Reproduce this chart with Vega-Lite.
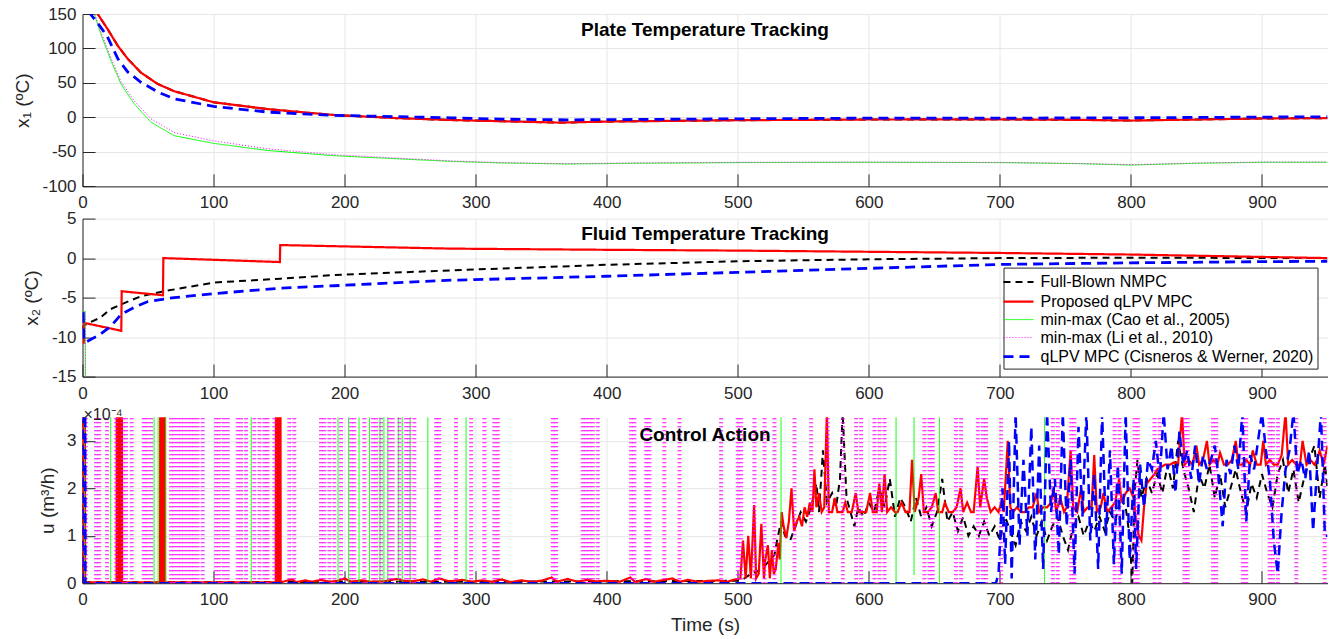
{
  "$schema": "https://vega.github.io/schema/vega-lite/v6.json",
  "background": "white",
  "padding": {"left": 12.5, "top": 5, "right": 10, "bottom": 6},
  "spacing": -1.4,
  "config": {
    "font": "Liberation Sans",
    "view": {"stroke": null},
    "axis": {"labelFontSize": 17, "labelColor": "#262626", "titleFontSize": 19, "titleFontWeight": "normal", "titleColor": "#262626", "domainColor": "#262626", "domainWidth": 1, "tickColor": "#262626", "tickSize": -12.5, "gridColor": "#e6e6e6", "labelFlush": false, "labelOverlap": false, "labelBound": false},
    "axisX": {"labelPadding": 21, "titlePadding": 8},
    "axisY": {"labelPadding": 19, "titlePadding": 9.5},
    "line": {"clip": true, "strokeCap": "butt", "strokeJoin": "miter"},
    "rule": {"clip": true}
  },
  "resolve": {"scale": {"color": "independent", "strokeDash": "independent", "strokeWidth": "independent"}, "legend": {"color": "independent", "strokeDash": "independent", "strokeWidth": "independent"}},
  "datasets": {
    "x1": [
      {"s":"NMPC","t":0,"v":260},{"s":"NMPC","t":5,"v":200},{"s":"NMPC","t":11.6,"v":150},{"s":"NMPC","t":19.2,"v":128},{"s":"NMPC","t":26.9,"v":104},{"s":"NMPC","t":34.5,"v":85},{"s":"NMPC","t":44.6,"v":65},{"s":"NMPC","t":57.4,"v":48.5},{"s":"NMPC","t":70,"v":38},{"s":"NMPC","t":100,"v":22},{"s":"NMPC","t":141.7,"v":12},{"s":"NMPC","t":192,"v":3.5},{"s":"NMPC","t":240,"v":-1},{"s":"NMPC","t":281,"v":-3.7},{"s":"NMPC","t":320,"v":-5.5},{"s":"NMPC","t":365,"v":-7.5},{"s":"NMPC","t":400,"v":-6},{"s":"NMPC","t":450,"v":-5},{"s":"NMPC","t":500,"v":-4},{"s":"NMPC","t":600,"v":-3},{"s":"NMPC","t":700,"v":-2.8},{"s":"NMPC","t":760,"v":-3.5},{"s":"NMPC","t":800,"v":-4.5},{"s":"NMPC","t":850,"v":-3},{"s":"NMPC","t":900,"v":-1.5},{"s":"NMPC","t":950,"v":-1},
      {"s":"qLPV","t":0,"v":260},{"s":"qLPV","t":5,"v":200},{"s":"qLPV","t":11.6,"v":150},{"s":"qLPV","t":19.2,"v":128},{"s":"qLPV","t":26.9,"v":104},{"s":"qLPV","t":34.5,"v":85},{"s":"qLPV","t":44.6,"v":65},{"s":"qLPV","t":57.4,"v":48.5},{"s":"qLPV","t":70,"v":38},{"s":"qLPV","t":100,"v":22},{"s":"qLPV","t":141.7,"v":12},{"s":"qLPV","t":192,"v":3.5},{"s":"qLPV","t":240,"v":-1},{"s":"qLPV","t":281,"v":-3.7},{"s":"qLPV","t":320,"v":-5.5},{"s":"qLPV","t":365,"v":-7.5},{"s":"qLPV","t":400,"v":-6},{"s":"qLPV","t":450,"v":-5},{"s":"qLPV","t":500,"v":-4},{"s":"qLPV","t":600,"v":-3},{"s":"qLPV","t":700,"v":-2.8},{"s":"qLPV","t":760,"v":-3.5},{"s":"qLPV","t":800,"v":-4.5},{"s":"qLPV","t":850,"v":-3},{"s":"qLPV","t":900,"v":-1.5},{"s":"qLPV","t":950,"v":-1},
      {"s":"Cao","t":0,"v":230},{"s":"Cao","t":5,"v":185},{"s":"Cao","t":9,"v":150},{"s":"Cao","t":14,"v":121},{"s":"Cao","t":21.8,"v":82},{"s":"Cao","t":29.4,"v":48.5},{"s":"Cao","t":39.5,"v":19.5},{"s":"Cao","t":52.3,"v":-7},{"s":"Cao","t":70,"v":-26.5},{"s":"Cao","t":100,"v":-37.6},{"s":"Cao","t":141.7,"v":-48},{"s":"Cao","t":192,"v":-55.5},{"s":"Cao","t":281,"v":-63.7},{"s":"Cao","t":320,"v":-66},{"s":"Cao","t":370,"v":-67.5},{"s":"Cao","t":420,"v":-66.5},{"s":"Cao","t":500,"v":-65.5},{"s":"Cao","t":600,"v":-65},{"s":"Cao","t":700,"v":-65.5},{"s":"Cao","t":760,"v":-67},{"s":"Cao","t":800,"v":-69},{"s":"Cao","t":850,"v":-66.5},{"s":"Cao","t":900,"v":-65},{"s":"Cao","t":950,"v":-65},
      {"s":"Li","t":0,"v":230},{"s":"Li","t":5,"v":186},{"s":"Li","t":9,"v":152},{"s":"Li","t":14,"v":124},{"s":"Li","t":21.8,"v":86},{"s":"Li","t":29.4,"v":52},{"s":"Li","t":39.5,"v":24},{"s":"Li","t":52.3,"v":-2},{"s":"Li","t":70,"v":-22},{"s":"Li","t":100,"v":-34},{"s":"Li","t":141.7,"v":-45.5},{"s":"Li","t":192,"v":-54},{"s":"Li","t":281,"v":-63},{"s":"Li","t":320,"v":-65.5},{"s":"Li","t":370,"v":-67},{"s":"Li","t":420,"v":-66},{"s":"Li","t":500,"v":-65},{"s":"Li","t":600,"v":-64.7},{"s":"Li","t":700,"v":-65.2},{"s":"Li","t":760,"v":-66.7},{"s":"Li","t":800,"v":-68.5},{"s":"Li","t":850,"v":-66},{"s":"Li","t":900,"v":-64.7},{"s":"Li","t":950,"v":-64.7},
      {"s":"CW","t":0,"v":200},{"s":"CW","t":6,"v":150},{"s":"CW","t":14,"v":130.6},{"s":"CW","t":19,"v":117},{"s":"CW","t":27,"v":85},{"s":"CW","t":34.5,"v":66},{"s":"CW","t":44.6,"v":51},{"s":"CW","t":57.4,"v":37},{"s":"CW","t":70,"v":27},{"s":"CW","t":100,"v":16},{"s":"CW","t":141.7,"v":7.7},{"s":"CW","t":192,"v":3},{"s":"CW","t":281,"v":-0.5},{"s":"CW","t":320,"v":-2.5},{"s":"CW","t":370,"v":-3.5},{"s":"CW","t":420,"v":-3},{"s":"CW","t":500,"v":-2},{"s":"CW","t":600,"v":-1},{"s":"CW","t":700,"v":-1},{"s":"CW","t":800,"v":-0.5},{"s":"CW","t":850,"v":0},{"s":"CW","t":900,"v":0.5},{"s":"CW","t":950,"v":1}
    ],
    "x2": [
      {"s":"NMPC","t":0,"v":-9},{"s":"NMPC","t":0.6,"v":-8.6},{"s":"NMPC","t":5,"v":-8.2},{"s":"NMPC","t":14,"v":-7.5},{"s":"NMPC","t":21,"v":-6.5},{"s":"NMPC","t":29.6,"v":-5.85},{"s":"NMPC","t":44.9,"v":-4.8},{"s":"NMPC","t":62,"v":-4.2},{"s":"NMPC","t":100,"v":-3.1},{"s":"NMPC","t":151,"v":-2.6},{"s":"NMPC","t":192,"v":-2.15},{"s":"NMPC","t":281,"v":-1.55},{"s":"NMPC","t":400,"v":-0.85},{"s":"NMPC","t":500,"v":-0.4},{"s":"NMPC","t":600,"v":-0.15},{"s":"NMPC","t":700,"v":0},{"s":"NMPC","t":800,"v":0.05},{"s":"NMPC","t":950,"v":0},
      {"s":"qLPV","t":0,"v":-10.7},{"s":"qLPV","t":1,"v":-10.7},{"s":"qLPV","t":1.3,"v":-8.2},{"s":"qLPV","t":29.6,"v":-9.2},{"s":"qLPV","t":29.9,"v":-4.2},{"s":"qLPV","t":61.4,"v":-4.7},{"s":"qLPV","t":61.7,"v":0},{"s":"qLPV","t":150.6,"v":-0.5},{"s":"qLPV","t":150.9,"v":1.65},{"s":"qLPV","t":281,"v":1.2},{"s":"qLPV","t":400,"v":1.05},{"s":"qLPV","t":500,"v":0.95},{"s":"qLPV","t":600,"v":0.8},{"s":"qLPV","t":700,"v":0.65},{"s":"qLPV","t":800,"v":0.45},{"s":"qLPV","t":900,"v":0.15},{"s":"qLPV","t":950,"v":0},
      {"s":"Cao","t":0,"v":-7},{"s":"Cao","t":2,"v":-6.7},{"s":"Cao","t":2.5,"v":-40},{"s":"Cao","t":950,"v":-40},
      {"s":"Li","t":0,"v":-7.3},{"s":"Li","t":2.2,"v":-7},{"s":"Li","t":2.7,"v":-40},{"s":"Li","t":950,"v":-40},
      {"s":"CW","t":0,"v":-7},{"s":"CW","t":0.6,"v":-7},{"s":"CW","t":1,"v":-10.5},{"s":"CW","t":3,"v":-10.6},{"s":"CW","t":14,"v":-9.6},{"s":"CW","t":21.8,"v":-8.6},{"s":"CW","t":29.6,"v":-7.1},{"s":"CW","t":39.8,"v":-6.2},{"s":"CW","t":50,"v":-5.5},{"s":"CW","t":70,"v":-5},{"s":"CW","t":100,"v":-4.5},{"s":"CW","t":151,"v":-3.8},{"s":"CW","t":192,"v":-3.5},{"s":"CW","t":281,"v":-2.8},{"s":"CW","t":400,"v":-2.3},{"s":"CW","t":500,"v":-1.8},{"s":"CW","t":600,"v":-1.3},{"s":"CW","t":700,"v":-0.8},{"s":"CW","t":800,"v":-0.6},{"s":"CW","t":900,"v":-0.45},{"s":"CW","t":950,"v":-0.4}
    ],
    "u": [
      {"s":"NMPC","t":0,"v":0},{"s":"NMPC","t":0.4,"v":10},{"s":"NMPC","t":1.2,"v":10},{"s":"NMPC","t":1.6,"v":0.02},{"s":"NMPC","t":100,"v":0.02},{"s":"NMPC","t":200,"v":0.03},{"s":"NMPC","t":300,"v":0.03},{"s":"NMPC","t":400,"v":0.04},{"s":"NMPC","t":500,"v":0.05},{"s":"NMPC","t":505,"v":0.1},{"s":"NMPC","t":510,"v":0.2},{"s":"NMPC","t":515,"v":0.25},{"s":"NMPC","t":520,"v":0.35},{"s":"NMPC","t":525,"v":0.5},{"s":"NMPC","t":528,"v":0.6},{"s":"NMPC","t":530,"v":0.9},{"s":"NMPC","t":533,"v":1.3},{"s":"NMPC","t":536,"v":1.0},{"s":"NMPC","t":540,"v":0.9},{"s":"NMPC","t":544,"v":1.2},{"s":"NMPC","t":548,"v":1.5},{"s":"NMPC","t":552,"v":1.3},{"s":"NMPC","t":556,"v":1.6},{"s":"NMPC","t":560,"v":2.1},{"s":"NMPC","t":562,"v":1.5},{"s":"NMPC","t":565,"v":2.8},{"s":"NMPC","t":568,"v":1.7},{"s":"NMPC","t":572,"v":1.9},{"s":"NMPC","t":575,"v":1.6},{"s":"NMPC","t":578,"v":2.2},{"s":"NMPC","t":580,"v":3.6},{"s":"NMPC","t":583,"v":1.8},{"s":"NMPC","t":586,"v":1.5},{"s":"NMPC","t":589,"v":1.2},{"s":"NMPC","t":592,"v":1.6},{"s":"NMPC","t":596,"v":1.4},{"s":"NMPC","t":600,"v":1.7},{"s":"NMPC","t":604,"v":1.5},{"s":"NMPC","t":608,"v":2.0},{"s":"NMPC","t":612,"v":1.6},{"s":"NMPC","t":616,"v":2.2},{"s":"NMPC","t":620,"v":1.4},{"s":"NMPC","t":624,"v":1.8},{"s":"NMPC","t":628,"v":1.6},{"s":"NMPC","t":632,"v":1.3},{"s":"NMPC","t":636,"v":1.8},{"s":"NMPC","t":640,"v":1.4},{"s":"NMPC","t":644,"v":1.6},{"s":"NMPC","t":648,"v":1.2},{"s":"NMPC","t":652,"v":1.5},{"s":"NMPC","t":656,"v":2.2},{"s":"NMPC","t":660,"v":1.3},{"s":"NMPC","t":664,"v":1.5},{"s":"NMPC","t":668,"v":1.1},{"s":"NMPC","t":672,"v":1.4},{"s":"NMPC","t":676,"v":1.0},{"s":"NMPC","t":680,"v":1.2},{"s":"NMPC","t":684,"v":1.0},{"s":"NMPC","t":688,"v":1.3},{"s":"NMPC","t":692,"v":1.0},{"s":"NMPC","t":696,"v":1.2},{"s":"NMPC","t":700,"v":0.9},{"s":"NMPC","t":704,"v":1.4},{"s":"NMPC","t":708,"v":1.1},{"s":"NMPC","t":712,"v":0.8},{"s":"NMPC","t":716,"v":1.3},{"s":"NMPC","t":720,"v":1.1},{"s":"NMPC","t":724,"v":1.4},{"s":"NMPC","t":728,"v":1.0},{"s":"NMPC","t":732,"v":1.3},{"s":"NMPC","t":736,"v":0.9},{"s":"NMPC","t":740,"v":1.2},{"s":"NMPC","t":744,"v":1.4},{"s":"NMPC","t":748,"v":1.0},{"s":"NMPC","t":752,"v":0.7},{"s":"NMPC","t":756,"v":1.2},{"s":"NMPC","t":760,"v":1.4},{"s":"NMPC","t":764,"v":1.0},{"s":"NMPC","t":768,"v":1.3},{"s":"NMPC","t":772,"v":1.1},{"s":"NMPC","t":776,"v":1.4},{"s":"NMPC","t":780,"v":1.1},{"s":"NMPC","t":784,"v":1.5},{"s":"NMPC","t":788,"v":1.3},{"s":"NMPC","t":792,"v":1.8},{"s":"NMPC","t":796,"v":1.6},{"s":"NMPC","t":799,"v":1.0},{"s":"NMPC","t":801,"v":0.0},{"s":"NMPC","t":803,"v":2.0},{"s":"NMPC","t":805,"v":2.6},{"s":"NMPC","t":808,"v":1.8},{"s":"NMPC","t":812,"v":2.2},{"s":"NMPC","t":816,"v":1.9},{"s":"NMPC","t":820,"v":2.3},{"s":"NMPC","t":824,"v":1.9},{"s":"NMPC","t":828,"v":2.5},{"s":"NMPC","t":832,"v":2.0},{"s":"NMPC","t":836,"v":3.0},{"s":"NMPC","t":840,"v":2.4},{"s":"NMPC","t":844,"v":2.0},{"s":"NMPC","t":848,"v":1.5},{"s":"NMPC","t":852,"v":2.3},{"s":"NMPC","t":856,"v":2.0},{"s":"NMPC","t":860,"v":2.5},{"s":"NMPC","t":864,"v":1.8},{"s":"NMPC","t":868,"v":2.3},{"s":"NMPC","t":872,"v":1.6},{"s":"NMPC","t":876,"v":2.0},{"s":"NMPC","t":880,"v":2.4},{"s":"NMPC","t":884,"v":1.9},{"s":"NMPC","t":888,"v":1.5},{"s":"NMPC","t":892,"v":2.1},{"s":"NMPC","t":896,"v":1.8},{"s":"NMPC","t":900,"v":2.3},{"s":"NMPC","t":904,"v":1.9},{"s":"NMPC","t":908,"v":1.6},{"s":"NMPC","t":912,"v":2.3},{"s":"NMPC","t":916,"v":2.6},{"s":"NMPC","t":920,"v":1.9},{"s":"NMPC","t":924,"v":2.4},{"s":"NMPC","t":928,"v":1.7},{"s":"NMPC","t":932,"v":2.2},{"s":"NMPC","t":936,"v":2.6},{"s":"NMPC","t":940,"v":2.9},{"s":"NMPC","t":944,"v":1.8},{"s":"NMPC","t":948,"v":2.5},{"s":"NMPC","t":950,"v":2.0},
      {"s":"qLPV","t":0,"v":0},{"s":"qLPV","t":0.5,"v":10},{"s":"qLPV","t":1.5,"v":10},{"s":"qLPV","t":2,"v":0.02},{"s":"qLPV","t":26,"v":0.02},{"s":"qLPV","t":26.3,"v":10},{"s":"qLPV","t":27.3,"v":10},{"s":"qLPV","t":27.6,"v":0.02},{"s":"qLPV","t":28.6,"v":0.02},{"s":"qLPV","t":28.9,"v":10},{"s":"qLPV","t":29.9,"v":10},{"s":"qLPV","t":30.2,"v":0.02},{"s":"qLPV","t":59.2,"v":0.02},{"s":"qLPV","t":59.5,"v":10},{"s":"qLPV","t":60.3,"v":10},{"s":"qLPV","t":60.6,"v":0.02},{"s":"qLPV","t":61.6,"v":0.02},{"s":"qLPV","t":61.9,"v":10},{"s":"qLPV","t":62.7,"v":10},{"s":"qLPV","t":63,"v":0.02},{"s":"qLPV","t":147.5,"v":0.02},{"s":"qLPV","t":147.8,"v":10},{"s":"qLPV","t":148.6,"v":10},{"s":"qLPV","t":148.9,"v":0.02},{"s":"qLPV","t":149.8,"v":0.02},{"s":"qLPV","t":150.1,"v":10},{"s":"qLPV","t":150.9,"v":10},{"s":"qLPV","t":151.2,"v":0.02},
      {"s":"qLPV","t":160,"v":0.08},{"s":"qLPV","t":163,"v":0.02},{"s":"qLPV","t":170,"v":0.06},{"s":"qLPV","t":175,"v":0.03},{"s":"qLPV","t":182,"v":0.07},{"s":"qLPV","t":188,"v":0.03},{"s":"qLPV","t":195,"v":0.05},{"s":"qLPV","t":200,"v":0.1},{"s":"qLPV","t":205,"v":0.03},{"s":"qLPV","t":213,"v":0.06},{"s":"qLPV","t":220,"v":0.03},{"s":"qLPV","t":230,"v":0.04},{"s":"qLPV","t":240,"v":0.09},{"s":"qLPV","t":245,"v":0.05},{"s":"qLPV","t":252,"v":0.04},{"s":"qLPV","t":260,"v":0.08},{"s":"qLPV","t":266,"v":0.03},{"s":"qLPV","t":272,"v":0.1},{"s":"qLPV","t":280,"v":0.04},{"s":"qLPV","t":290,"v":0.07},{"s":"qLPV","t":297,"v":0.03},{"s":"qLPV","t":305,"v":0.06},{"s":"qLPV","t":312,"v":0.03},{"s":"qLPV","t":320,"v":0.08},{"s":"qLPV","t":326,"v":0.02},{"s":"qLPV","t":335,"v":0.06},{"s":"qLPV","t":342,"v":0.03},{"s":"qLPV","t":350,"v":0.05},{"s":"qLPV","t":358,"v":0.12},{"s":"qLPV","t":362,"v":0.03},{"s":"qLPV","t":370,"v":0.09},{"s":"qLPV","t":378,"v":0.03},{"s":"qLPV","t":385,"v":0.07},{"s":"qLPV","t":392,"v":0.04},{"s":"qLPV","t":400,"v":0.05},{"s":"qLPV","t":410,"v":0.03},{"s":"qLPV","t":418,"v":0.12},{"s":"qLPV","t":422,"v":0.02},{"s":"qLPV","t":430,"v":0.09},{"s":"qLPV","t":436,"v":0.03},{"s":"qLPV","t":442,"v":0.06},{"s":"qLPV","t":450,"v":0.1},{"s":"qLPV","t":456,"v":0.03},{"s":"qLPV","t":462,"v":0.07},{"s":"qLPV","t":470,"v":0.03},{"s":"qLPV","t":478,"v":0.05},{"s":"qLPV","t":485,"v":0.06},{"s":"qLPV","t":492,"v":0.03},{"s":"qLPV","t":498,"v":0.08},
      {"s":"qLPV","t":502,"v":0.1},{"s":"qLPV","t":504,"v":0.9},{"s":"qLPV","t":506,"v":0.1},{"s":"qLPV","t":508,"v":1.0},{"s":"qLPV","t":510,"v":0.1},{"s":"qLPV","t":512.5,"v":1.65},{"s":"qLPV","t":514,"v":0.1},{"s":"qLPV","t":516,"v":0.2},{"s":"qLPV","t":518,"v":1.25},{"s":"qLPV","t":520,"v":0.1},{"s":"qLPV","t":521,"v":0.5},{"s":"qLPV","t":523,"v":0.8},{"s":"qLPV","t":524.5,"v":0.1},{"s":"qLPV","t":526,"v":0.7},{"s":"qLPV","t":527.5,"v":0.2},{"s":"qLPV","t":529,"v":0.3},{"s":"qLPV","t":531,"v":0.85},{"s":"qLPV","t":532,"v":0.5},{"s":"qLPV","t":533.5,"v":1.5},{"s":"qLPV","t":535,"v":1.2},{"s":"qLPV","t":537,"v":0.95},{"s":"qLPV","t":539,"v":1.3},{"s":"qLPV","t":541,"v":2.0},{"s":"qLPV","t":543,"v":1.1},{"s":"qLPV","t":545,"v":1.3},{"s":"qLPV","t":547,"v":1.4},{"s":"qLPV","t":549,"v":1.2},{"s":"qLPV","t":551,"v":1.6},{"s":"qLPV","t":553,"v":1.4},{"s":"qLPV","t":555,"v":1.7},{"s":"qLPV","t":557,"v":1.5},{"s":"qLPV","t":558.5,"v":2.4},{"s":"qLPV","t":560,"v":1.6},{"s":"qLPV","t":562,"v":1.9},{"s":"qLPV","t":564,"v":1.5},{"s":"qLPV","t":566,"v":1.6},{"s":"qLPV","t":568,"v":3.6},{"s":"qLPV","t":569.5,"v":1.5},{"s":"qLPV","t":572,"v":1.5},{"s":"qLPV","t":574,"v":1.8},{"s":"qLPV","t":576,"v":1.5},{"s":"qLPV","t":580,"v":1.5},{"s":"qLPV","t":582,"v":1.7},{"s":"qLPV","t":584,"v":1.5},{"s":"qLPV","t":587,"v":1.5},{"s":"qLPV","t":590,"v":1.9},{"s":"qLPV","t":592,"v":1.5},{"s":"qLPV","t":598,"v":1.5},{"s":"qLPV","t":601,"v":1.9},{"s":"qLPV","t":603,"v":1.5},{"s":"qLPV","t":606,"v":1.5},{"s":"qLPV","t":608,"v":2.1},{"s":"qLPV","t":610,"v":1.5},{"s":"qLPV","t":612,"v":2.3},{"s":"qLPV","t":614,"v":1.5},{"s":"qLPV","t":617,"v":1.6},{"s":"qLPV","t":620,"v":1.5},{"s":"qLPV","t":622,"v":1.5},{"s":"qLPV","t":625,"v":1.7},{"s":"qLPV","t":628,"v":1.5},{"s":"qLPV","t":631,"v":1.5},{"s":"qLPV","t":633,"v":2.6},{"s":"qLPV","t":635,"v":1.5},{"s":"qLPV","t":638,"v":1.8},{"s":"qLPV","t":640,"v":2.3},{"s":"qLPV","t":642,"v":1.5},{"s":"qLPV","t":645,"v":1.5},{"s":"qLPV","t":648,"v":1.6},{"s":"qLPV","t":651,"v":1.9},{"s":"qLPV","t":653,"v":1.5},{"s":"qLPV","t":656,"v":1.5},{"s":"qLPV","t":658,"v":1.7},{"s":"qLPV","t":661,"v":1.5},{"s":"qLPV","t":664,"v":1.5},{"s":"qLPV","t":667,"v":1.6},{"s":"qLPV","t":670,"v":2.0},{"s":"qLPV","t":672,"v":1.5},{"s":"qLPV","t":675,"v":1.7},{"s":"qLPV","t":678,"v":1.5},{"s":"qLPV","t":680,"v":1.5},{"s":"qLPV","t":683,"v":2.45},{"s":"qLPV","t":685,"v":1.6},{"s":"qLPV","t":688,"v":2.2},{"s":"qLPV","t":690,"v":1.8},{"s":"qLPV","t":693,"v":1.5},{"s":"qLPV","t":696,"v":1.6},{"s":"qLPV","t":699,"v":1.5},{"s":"qLPV","t":701,"v":1.7},{"s":"qLPV","t":703,"v":1.5},{"s":"qLPV","t":706,"v":3.0},{"s":"qLPV","t":708,"v":1.6},{"s":"qLPV","t":710,"v":1.5},{"s":"qLPV","t":713,"v":1.6},{"s":"qLPV","t":716,"v":1.5},{"s":"qLPV","t":719,"v":1.5},{"s":"qLPV","t":722,"v":1.6},{"s":"qLPV","t":725,"v":1.6},{"s":"qLPV","t":728,"v":1.9},{"s":"qLPV","t":730,"v":1.5},{"s":"qLPV","t":733,"v":1.6},{"s":"qLPV","t":736,"v":1.6},{"s":"qLPV","t":739,"v":1.7},{"s":"qLPV","t":741,"v":2.0},{"s":"qLPV","t":743,"v":1.5},{"s":"qLPV","t":746,"v":1.8},{"s":"qLPV","t":749,"v":1.5},{"s":"qLPV","t":751,"v":1.6},{"s":"qLPV","t":754,"v":2.8},{"s":"qLPV","t":756,"v":1.6},{"s":"qLPV","t":759,"v":1.5},{"s":"qLPV","t":762,"v":2.0},{"s":"qLPV","t":764,"v":1.5},{"s":"qLPV","t":767,"v":1.6},{"s":"qLPV","t":770,"v":1.6},{"s":"qLPV","t":772,"v":2.7},{"s":"qLPV","t":774,"v":1.5},{"s":"qLPV","t":777,"v":1.6},{"s":"qLPV","t":779,"v":1.9},{"s":"qLPV","t":782,"v":1.5},{"s":"qLPV","t":785,"v":1.6},{"s":"qLPV","t":788,"v":1.7},{"s":"qLPV","t":791,"v":2.2},{"s":"qLPV","t":793,"v":1.7},{"s":"qLPV","t":796,"v":1.9},{"s":"qLPV","t":799,"v":2.0},{"s":"qLPV","t":802,"v":1.8},{"s":"qLPV","t":804,"v":1.3},{"s":"qLPV","t":806,"v":1.0},{"s":"qLPV","t":808,"v":0.9},{"s":"qLPV","t":810,"v":1.6},{"s":"qLPV","t":812,"v":2.1},{"s":"qLPV","t":815,"v":2.2},{"s":"qLPV","t":818,"v":2.3},{"s":"qLPV","t":820,"v":2.4},{"s":"qLPV","t":823,"v":2.45},{"s":"qLPV","t":826,"v":2.5},{"s":"qLPV","t":830,"v":2.5},{"s":"qLPV","t":833,"v":2.55},{"s":"qLPV","t":836,"v":2.5},{"s":"qLPV","t":839,"v":3.6},{"s":"qLPV","t":841,"v":2.5},{"s":"qLPV","t":844,"v":2.6},{"s":"qLPV","t":847,"v":2.5},{"s":"qLPV","t":850,"v":2.9},{"s":"qLPV","t":852,"v":2.5},{"s":"qLPV","t":855,"v":2.6},{"s":"qLPV","t":858,"v":3.0},{"s":"qLPV","t":860,"v":2.5},{"s":"qLPV","t":863,"v":2.6},{"s":"qLPV","t":866,"v":2.5},{"s":"qLPV","t":868,"v":2.75},{"s":"qLPV","t":871,"v":2.5},{"s":"qLPV","t":874,"v":2.5},{"s":"qLPV","t":877,"v":2.6},{"s":"qLPV","t":880,"v":3.0},{"s":"qLPV","t":882,"v":2.5},{"s":"qLPV","t":885,"v":2.5},{"s":"qLPV","t":888,"v":2.6},{"s":"qLPV","t":891,"v":2.5},{"s":"qLPV","t":893,"v":2.8},{"s":"qLPV","t":896,"v":2.5},{"s":"qLPV","t":899,"v":2.5},{"s":"qLPV","t":901,"v":3.0},{"s":"qLPV","t":903,"v":2.5},{"s":"qLPV","t":906,"v":2.6},{"s":"qLPV","t":909,"v":2.5},{"s":"qLPV","t":912,"v":2.5},{"s":"qLPV","t":915,"v":2.7},{"s":"qLPV","t":918,"v":3.6},{"s":"qLPV","t":920,"v":2.5},{"s":"qLPV","t":923,"v":2.6},{"s":"qLPV","t":926,"v":2.5},{"s":"qLPV","t":929,"v":2.5},{"s":"qLPV","t":931,"v":3.0},{"s":"qLPV","t":934,"v":2.5},{"s":"qLPV","t":937,"v":2.6},{"s":"qLPV","t":940,"v":2.5},{"s":"qLPV","t":942,"v":2.6},{"s":"qLPV","t":944,"v":2.8},{"s":"qLPV","t":947,"v":2.5},{"s":"qLPV","t":950,"v":2.9},
      {"s":"CW","t":0,"v":0},{"s":"CW","t":0.8,"v":10},{"s":"CW","t":1.8,"v":10},{"s":"CW","t":2.2,"v":0},{"s":"CW","t":697,"v":0},{"s":"CW","t":699,"v":0.2},{"s":"CW","t":702,"v":2.0},{"s":"CW","t":704,"v":0.4},{"s":"CW","t":707,"v":3.0},{"s":"CW","t":709,"v":0.1},{"s":"CW","t":712,"v":3.6},{"s":"CW","t":715,"v":0.8},{"s":"CW","t":718,"v":2.6},{"s":"CW","t":721,"v":1.0},{"s":"CW","t":724,"v":3.3},{"s":"CW","t":727,"v":0.5},{"s":"CW","t":730,"v":2.9},{"s":"CW","t":733,"v":0.3},{"s":"CW","t":736,"v":3.6},{"s":"CW","t":739,"v":1.5},{"s":"CW","t":742,"v":2.2},{"s":"CW","t":745,"v":0.6},{"s":"CW","t":748,"v":3.6},{"s":"CW","t":751,"v":1.2},{"s":"CW","t":754,"v":2.6},{"s":"CW","t":757,"v":0.2},{"s":"CW","t":760,"v":3.3},{"s":"CW","t":763,"v":1.4},{"s":"CW","t":766,"v":3.6},{"s":"CW","t":769,"v":0.9},{"s":"CW","t":772,"v":2.3},{"s":"CW","t":775,"v":0.3},{"s":"CW","t":778,"v":3.6},{"s":"CW","t":781,"v":1.0},{"s":"CW","t":784,"v":2.8},{"s":"CW","t":787,"v":0.4},{"s":"CW","t":790,"v":2.5},{"s":"CW","t":793,"v":0.2},{"s":"CW","t":796,"v":3.6},{"s":"CW","t":799,"v":0.5},{"s":"CW","t":802,"v":2.2},{"s":"CW","t":804,"v":0.3},{"s":"CW","t":807,"v":2.5},{"s":"CW","t":810,"v":1.6},{"s":"CW","t":813,"v":2.6},{"s":"CW","t":816,"v":2.4},{"s":"CW","t":819,"v":3.0},{"s":"CW","t":822,"v":2.2},{"s":"CW","t":825,"v":3.6},{"s":"CW","t":828,"v":2.4},{"s":"CW","t":831,"v":2.9},{"s":"CW","t":834,"v":1.9},{"s":"CW","t":837,"v":3.2},{"s":"CW","t":840,"v":2.5},{"s":"CW","t":843,"v":2.8},{"s":"CW","t":846,"v":2.2},{"s":"CW","t":849,"v":2.9},{"s":"CW","t":852,"v":2.1},{"s":"CW","t":855,"v":2.7},{"s":"CW","t":858,"v":2.4},{"s":"CW","t":861,"v":2.6},{"s":"CW","t":864,"v":2.9},{"s":"CW","t":867,"v":2.2},{"s":"CW","t":870,"v":1.2},{"s":"CW","t":873,"v":2.6},{"s":"CW","t":876,"v":2.3},{"s":"CW","t":879,"v":2.9},{"s":"CW","t":882,"v":2.4},{"s":"CW","t":885,"v":3.6},{"s":"CW","t":888,"v":1.3},{"s":"CW","t":891,"v":2.7},{"s":"CW","t":894,"v":2.4},{"s":"CW","t":897,"v":3.0},{"s":"CW","t":900,"v":3.6},{"s":"CW","t":903,"v":2.8},{"s":"CW","t":906,"v":2.2},{"s":"CW","t":909,"v":0.9},{"s":"CW","t":912,"v":0.2},{"s":"CW","t":915,"v":1.5},{"s":"CW","t":918,"v":2.4},{"s":"CW","t":921,"v":2.8},{"s":"CW","t":924,"v":3.6},{"s":"CW","t":927,"v":2.3},{"s":"CW","t":930,"v":2.6},{"s":"CW","t":933,"v":2.2},{"s":"CW","t":936,"v":2.8},{"s":"CW","t":939,"v":1.1},{"s":"CW","t":942,"v":2.4},{"s":"CW","t":945,"v":3.6},{"s":"CW","t":948,"v":1.0},{"s":"CW","t":950,"v":1.0}
    ],
    "spikes": [
      {"s":"Cao","t":1.5,"lo":0,"hi":3.5},{"s":"Cao","t":21.5,"lo":0,"hi":3.5},{"s":"Cao","t":54.6,"lo":0,"hi":3.5},{"s":"Cao","t":57.7,"lo":0,"hi":3.5},{"s":"Cao","t":63.5,"lo":0,"hi":3.5},{"s":"Cao","t":128.8,"lo":0,"hi":3.5},{"s":"Cao","t":195,"lo":0,"hi":3.5},{"s":"Cao","t":203,"lo":0,"hi":3.5},{"s":"Cao","t":211,"lo":0,"hi":3.5},{"s":"Cao","t":219,"lo":0,"hi":3.5},{"s":"Cao","t":227,"lo":0,"hi":3.5},{"s":"Cao","t":230,"lo":0,"hi":3.5},{"s":"Cao","t":233,"lo":0,"hi":3.5},{"s":"Cao","t":241,"lo":0,"hi":3.5},{"s":"Cao","t":244,"lo":0,"hi":3.5},{"s":"Cao","t":250,"lo":0,"hi":3.5},{"s":"Cao","t":263.5,"lo":0,"hi":3.5},{"s":"Cao","t":292.7,"lo":0,"hi":3.5},{"s":"Cao","t":533,"lo":0,"hi":3.5},{"s":"Cao","t":620.8,"lo":0,"hi":3.5},{"s":"Cao","t":634.5,"lo":0.17,"hi":3.5},{"s":"Cao","t":653.9,"lo":0,"hi":3.5},{"s":"Cao","t":734,"lo":0,"hi":3.5},
      {"s":"Li","t":2.5,"lo":0,"hi":3.5},{"s":"Li","t":10.3,"lo":0,"hi":3.5},{"s":"Li","t":12.8,"lo":0,"hi":3.5},{"s":"Li","t":18.7,"lo":0,"hi":3.5},{"s":"Li","t":25.6,"lo":0,"hi":3.5},{"s":"Li","t":30.7,"lo":0,"hi":3.5},{"s":"Li","t":33.2,"lo":0,"hi":3.5},{"s":"Li","t":37.5,"lo":0,"hi":3.5},{"s":"Li","t":46.7,"lo":0,"hi":3.5},{"s":"Li","t":49.2,"lo":0,"hi":3.5},{"s":"Li","t":52.3,"lo":0,"hi":3.5},{"s":"Li","t":67.5,"lo":0,"hi":3.5},{"s":"Li","t":70,"lo":0,"hi":3.5},{"s":"Li","t":72.7,"lo":0,"hi":3.5},{"s":"Li","t":75.2,"lo":0,"hi":3.5},{"s":"Li","t":77.7,"lo":0,"hi":3.5},{"s":"Li","t":80.3,"lo":0,"hi":3.5},{"s":"Li","t":82.8,"lo":0,"hi":3.5},{"s":"Li","t":85.3,"lo":0,"hi":3.5},{"s":"Li","t":87.9,"lo":0,"hi":3.5},{"s":"Li","t":91.7,"lo":0,"hi":3.5},{"s":"Li","t":101.9,"lo":0,"hi":3.5},{"s":"Li","t":104.4,"lo":0,"hi":3.5},{"s":"Li","t":107.8,"lo":0,"hi":3.5},{"s":"Li","t":110.8,"lo":0,"hi":3.5},{"s":"Li","t":118.4,"lo":0,"hi":3.5},{"s":"Li","t":121,"lo":0,"hi":3.5},{"s":"Li","t":124.8,"lo":0,"hi":3.5},{"s":"Li","t":131.1,"lo":0,"hi":3.5},{"s":"Li","t":135,"lo":0,"hi":3.5},{"s":"Li","t":138.8,"lo":0,"hi":3.5},{"s":"Li","t":141.3,"lo":0,"hi":3.5},{"s":"Li","t":146.4,"lo":0,"hi":3.5},{"s":"Li","t":157.8,"lo":0,"hi":3.5},{"s":"Li","t":161.6,"lo":0,"hi":3.5},{"s":"Li","t":182,"lo":0,"hi":3.5},{"s":"Li","t":184.5,"lo":0,"hi":3.5},{"s":"Li","t":188.4,"lo":0,"hi":3.5},{"s":"Li","t":192.2,"lo":0,"hi":3.5},{"s":"Li","t":197.3,"lo":0,"hi":3.5},{"s":"Li","t":204.9,"lo":0,"hi":3.5},{"s":"Li","t":207.4,"lo":0,"hi":3.5},{"s":"Li","t":215.1,"lo":0,"hi":3.5},{"s":"Li","t":221.5,"lo":0,"hi":3.5},{"s":"Li","t":224,"lo":0,"hi":3.5},{"s":"Li","t":227.8,"lo":0,"hi":3.5},{"s":"Li","t":234.1,"lo":0,"hi":3.5},{"s":"Li","t":236.7,"lo":0,"hi":3.5},{"s":"Li","t":241.8,"lo":0,"hi":3.5},{"s":"Li","t":246.9,"lo":0,"hi":3.5},{"s":"Li","t":249.4,"lo":0,"hi":3.5},{"s":"Li","t":253.2,"lo":0,"hi":3.5},{"s":"Li","t":269.8,"lo":0,"hi":3.5},{"s":"Li","t":272.3,"lo":0,"hi":3.5},{"s":"Li","t":285,"lo":0,"hi":3.5},{"s":"Li","t":296.5,"lo":0,"hi":3.5},{"s":"Li","t":306.6,"lo":0,"hi":3.5},{"s":"Li","t":314.3,"lo":0,"hi":3.5},{"s":"Li","t":316.9,"lo":0,"hi":3.5},{"s":"Li","t":358.8,"lo":0,"hi":3.5},{"s":"Li","t":361.4,"lo":0,"hi":3.5},{"s":"Li","t":381.7,"lo":0,"hi":3.5},{"s":"Li","t":384.3,"lo":0,"hi":3.5},{"s":"Li","t":386.8,"lo":0,"hi":3.5},{"s":"Li","t":389.4,"lo":0,"hi":3.5},{"s":"Li","t":393.2,"lo":0,"hi":3.5},{"s":"Li","t":418.6,"lo":0,"hi":3.5},{"s":"Li","t":421.1,"lo":0,"hi":3.5},{"s":"Li","t":430.1,"lo":0,"hi":3.5},{"s":"Li","t":432.6,"lo":0,"hi":3.5},{"s":"Li","t":444,"lo":0,"hi":3.5},{"s":"Li","t":455.5,"lo":0,"hi":3.5},{"s":"Li","t":487.3,"lo":0,"hi":3.5},{"s":"Li","t":500,"lo":0,"hi":3.5},{"s":"Li","t":502.6,"lo":0,"hi":3.5},{"s":"Li","t":512.7,"lo":0,"hi":3.5},{"s":"Li","t":520.4,"lo":0,"hi":3.5},{"s":"Li","t":528,"lo":0,"hi":3.5},{"s":"Li","t":543.3,"lo":0,"hi":3.5},{"s":"Li","t":556,"lo":0,"hi":3.5},{"s":"Li","t":568.7,"lo":0,"hi":3.5},{"s":"Li","t":580.2,"lo":0,"hi":3.5},{"s":"Li","t":590.3,"lo":0,"hi":3.5},{"s":"Li","t":594.1,"lo":0,"hi":3.5},{"s":"Li","t":604.3,"lo":0,"hi":3.5},{"s":"Li","t":608.1,"lo":0,"hi":3.5},{"s":"Li","t":612,"lo":0,"hi":3.5},{"s":"Li","t":642.4,"lo":0,"hi":3.5},{"s":"Li","t":646.3,"lo":0,"hi":3.5},{"s":"Li","t":648.8,"lo":0,"hi":3.5},{"s":"Li","t":666.6,"lo":0,"hi":3.5},{"s":"Li","t":670.4,"lo":0,"hi":3.5},{"s":"Li","t":683.2,"lo":0,"hi":3.5},{"s":"Li","t":687,"lo":0,"hi":3.5},{"s":"Li","t":689.5,"lo":0,"hi":3.5},{"s":"Li","t":701,"lo":0,"hi":3.5},{"s":"Li","t":740.4,"lo":0,"hi":3.5},{"s":"Li","t":744.2,"lo":0,"hi":3.5},{"s":"Li","t":754.4,"lo":0,"hi":3.5},{"s":"Li","t":756.9,"lo":0,"hi":3.5},{"s":"Li","t":787.5,"lo":0,"hi":3.5},{"s":"Li","t":791.3,"lo":0,"hi":3.5},{"s":"Li","t":802.7,"lo":0,"hi":3.5},{"s":"Li","t":805.3,"lo":0,"hi":3.5},{"s":"Li","t":818,"lo":0,"hi":3.5},{"s":"Li","t":821.8,"lo":0,"hi":3.5},{"s":"Li","t":840.9,"lo":0,"hi":3.5},{"s":"Li","t":843.4,"lo":0,"hi":3.5},{"s":"Li","t":862.6,"lo":0,"hi":3.5},{"s":"Li","t":865.1,"lo":0,"hi":3.5},{"s":"Li","t":885.4,"lo":0,"hi":3.5},{"s":"Li","t":888,"lo":0,"hi":3.5},{"s":"Li","t":905.8,"lo":0,"hi":3.5},{"s":"Li","t":908.4,"lo":0,"hi":3.5},{"s":"Li","t":912.2,"lo":0,"hi":3.5},{"s":"Li","t":926.2,"lo":0,"hi":3.5},{"s":"Li","t":947.8,"lo":0,"hi":3.5}
    ]
  },
  "vconcat": [
    {
      "width": 1245,
      "height": 172.4,
      "layer": [
        {
          "data": {"name": "x1"},
          "mark": {"type": "line", "clip": true},
          "encoding": {
            "x": {"field": "t", "type": "quantitative", "scale": {"domain": [0, 950], "nice": false, "zero": false}, "axis": {"values": [0,100,200,300,400,500,600,700,800,900], "tickCount": 20, "title": null, "labelOverlap": false, "labelExpr": "'' + datum.value"}},
            "y": {"field": "v", "type": "quantitative", "scale": {"domain": [-100, 150], "nice": false, "zero": false}, "axis": {"values": [-100,-50,0,50,100,150], "tickCount": 10, "title": "x₁ (ºC)", "labelOverlap": false, "labelExpr": "'' + datum.value"}},
            "color": {"field": "s", "type": "nominal", "scale": {"domain": ["NMPC","qLPV","Cao","Li","CW"], "range": ["#000000","#ff0000","#00ff00","#ff00ff","#0000ff"]}, "legend": null},
            "strokeDash": {"field": "s", "type": "nominal", "scale": {"domain": ["NMPC","qLPV","Cao","Li","CW"], "range": [[7,5],[1,0],[1,0],[1,2],[10,6]]}, "legend": null},
            "strokeWidth": {"field": "s", "type": "nominal", "scale": {"type": "ordinal", "domain": ["NMPC","qLPV","Cao","Li","CW"], "range": [2,2.2,1,1,2.8]}, "legend": null}
          }
        },
        {
          "data": {"values": [{}]},
          "mark": {"type": "text", "text": "Plate Temperature Tracking", "fontSize": 19, "fontWeight": "bold", "baseline": "middle", "align": "center", "dy": 16, "color": "#000000"},
          "encoding": {"x": {"datum": 475, "type": "quantitative"}, "y": {"datum": 150, "type": "quantitative"}}
        }
      ]
    },
    {
      "width": 1245,
      "height": 158,
      "layer": [
        {
          "data": {"name": "x2"},
          "mark": {"type": "line", "clip": true},
          "encoding": {
            "x": {"field": "t", "type": "quantitative", "scale": {"domain": [0, 950], "nice": false, "zero": false}, "axis": {"values": [0,100,200,300,400,500,600,700,800,900], "tickCount": 20, "title": null, "labelOverlap": false, "labelExpr": "'' + datum.value"}},
            "y": {"field": "v", "type": "quantitative", "scale": {"domain": [-15, 5], "nice": false, "zero": false}, "axis": {"values": [-15,-10,-5,0,5], "tickCount": 10, "title": "x₂ (ºC)", "labelOverlap": false, "labelExpr": "'' + datum.value"}},
            "color": {"field": "s", "type": "nominal", "scale": {"domain": ["NMPC","qLPV","Cao","Li","CW"], "range": ["#000000","#ff0000","#00ff00","#ff00ff","#0000ff"]},
              "legend": {"orient": "none", "legendX": 921, "legendY": 49, "title": null, "direction": "vertical", "symbolType": "M-1.58,0H1.58", "symbolSize": 361, "labelFontSize": 16, "labelColor": "#000000", "fillColor": "#ffffff", "strokeColor": "#262626", "padding": 4, "rowPadding": 0, "labelLimit": 400, "labelOffset": 11,
                "labelExpr": "datum.value == 'NMPC' ? 'Full-Blown NMPC' : datum.value == 'qLPV' ? 'Proposed qLPV MPC' : datum.value == 'Cao' ? 'min-max (Cao et al., 2005)' : datum.value == 'Li' ? 'min-max (Li et al., 2010)' : 'qLPV MPC (Cisneros & Werner, 2020)'"}},
            "strokeDash": {"field": "s", "type": "nominal", "scale": {"domain": ["NMPC","qLPV","Cao","Li","CW"], "range": [[7,5],[1,0],[1,0],[1,2],[10,6]]},
              "legend": {"orient": "none", "legendX": 921, "legendY": 49, "title": null, "direction": "vertical", "symbolType": "M-1.58,0H1.58", "symbolSize": 361, "labelFontSize": 16, "labelColor": "#000000", "fillColor": "#ffffff", "strokeColor": "#262626", "padding": 4, "rowPadding": 0, "labelLimit": 400, "labelOffset": 11,
                "labelExpr": "datum.value == 'NMPC' ? 'Full-Blown NMPC' : datum.value == 'qLPV' ? 'Proposed qLPV MPC' : datum.value == 'Cao' ? 'min-max (Cao et al., 2005)' : datum.value == 'Li' ? 'min-max (Li et al., 2010)' : 'qLPV MPC (Cisneros & Werner, 2020)'"}},
            "strokeWidth": {"field": "s", "type": "nominal", "scale": {"type": "ordinal", "domain": ["NMPC","qLPV","Cao","Li","CW"], "range": [2,2.2,1,1,2.8]},
              "legend": {"orient": "none", "legendX": 921, "legendY": 49, "title": null, "direction": "vertical", "symbolType": "M-1.58,0H1.58", "symbolSize": 361, "labelFontSize": 16, "labelColor": "#000000", "fillColor": "#ffffff", "strokeColor": "#262626", "padding": 4, "rowPadding": 0, "labelLimit": 400, "labelOffset": 11,
                "labelExpr": "datum.value == 'NMPC' ? 'Full-Blown NMPC' : datum.value == 'qLPV' ? 'Proposed qLPV MPC' : datum.value == 'Cao' ? 'min-max (Cao et al., 2005)' : datum.value == 'Li' ? 'min-max (Li et al., 2010)' : 'qLPV MPC (Cisneros & Werner, 2020)'"}}
          }
        },
        {
          "data": {"values": [{}]},
          "mark": {"type": "text", "text": "Fluid Temperature Tracking", "fontSize": 19, "fontWeight": "bold", "baseline": "middle", "align": "center", "dy": 15, "color": "#000000"},
          "encoding": {"x": {"datum": 475, "type": "quantitative"}, "y": {"datum": 5, "type": "quantitative"}}
        }
      ]
    },
    {
      "width": 1245,
      "height": 166,
      "layer": [
        {
          "data": {"name": "u"},
          "transform": [{"filter": "datum.s != 'CW'"}],
          "mark": {"type": "line", "clip": true},
          "encoding": {
            "x": {"field": "t", "type": "quantitative", "scale": {"domain": [0, 950], "nice": false, "zero": false}, "axis": {"values": [0,100,200,300,400,500,600,700,800,900], "tickCount": 20, "title": "Time (s)", "labelOverlap": false, "labelExpr": "'' + datum.value"}},
            "y": {"field": "v", "type": "quantitative", "scale": {"domain": [0, 3.5], "nice": false, "zero": false}, "axis": {"values": [0,1,2,3], "tickCount": 10, "title": "u (m³/h)", "labelOverlap": false, "labelExpr": "'' + datum.value"}},
            "color": {"field": "s", "type": "nominal", "scale": {"domain": ["NMPC","qLPV","Cao","Li","CW"], "range": ["#000000","#ff0000","#00ff00","#ff00ff","#0000ff"]}, "legend": null},
            "strokeDash": {"field": "s", "type": "nominal", "scale": {"domain": ["NMPC","qLPV","Cao","Li","CW"], "range": [[7,5],[1,0],[1,0],[1,3],[10,6]]}, "legend": null},
            "strokeWidth": {"field": "s", "type": "nominal", "scale": {"type": "ordinal", "domain": ["NMPC","qLPV","Cao","Li","CW"], "range": [2,2.2,1.2,0.9,2.8]}, "legend": null}
          }
        },
        {
          "data": {"name": "spikes"},
          "mark": {"type": "rule", "clip": true},
          "encoding": {
            "x": {"field": "t", "type": "quantitative"},
            "y": {"field": "lo", "type": "quantitative"},
            "y2": {"field": "hi"},
            "color": {"field": "s", "type": "nominal", "legend": null},
            "strokeDash": {"field": "s", "type": "nominal", "legend": null},
            "strokeWidth": {"field": "s", "type": "nominal", "legend": null}
          }
        },
        {
          "data": {"name": "u"},
          "transform": [{"filter": "datum.s == 'CW'"}],
          "mark": {"type": "line", "clip": true},
          "encoding": {
            "x": {"field": "t", "type": "quantitative"},
            "y": {"field": "v", "type": "quantitative"},
            "color": {"field": "s", "type": "nominal", "legend": null},
            "strokeDash": {"field": "s", "type": "nominal", "legend": null},
            "strokeWidth": {"field": "s", "type": "nominal", "legend": null}
          }
        },
        {
          "data": {"values": [{}]},
          "mark": {"type": "text", "text": "Control Action", "fontSize": 19, "fontWeight": "bold", "baseline": "middle", "align": "center", "dy": 18, "color": "#000000"},
          "encoding": {"x": {"datum": 475, "type": "quantitative"}, "y": {"datum": 3.5, "type": "quantitative"}}
        },
        {
          "data": {"values": [{}]},
          "mark": {"type": "text", "text": ["", "×10⁻⁴"], "lineHeight": 7, "fontSize": 16, "baseline": "alphabetic", "align": "left", "dy": -4, "dx": 1, "color": "#262626"},
          "encoding": {"x": {"datum": 0, "type": "quantitative"}, "y": {"datum": 3.5, "type": "quantitative"}}
        }
      ]
    }
  ]
}
